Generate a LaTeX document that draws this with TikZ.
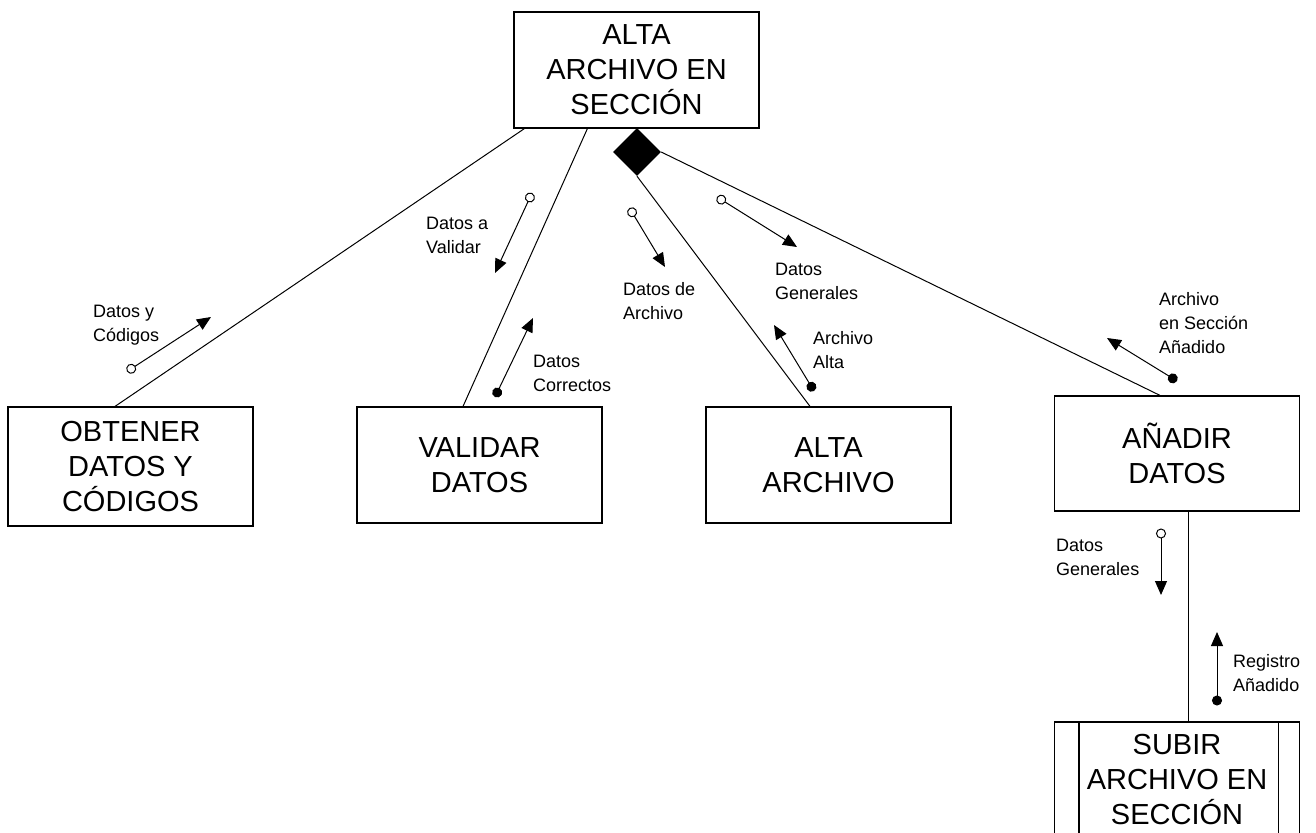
\documentclass[tikz,border=0pt]{standalone}
\usepackage{fontspec}
\setmainfont{Liberation Sans}
\usetikzlibrary{shapes.geometric, arrows.meta, calc}

\begin{document}
\begin{tikzpicture}[x=1pt, y=-1pt,
    proc/.style={draw, line width=1.2pt, minimum width=245pt, minimum height=116pt,
      align=center, font=\fontsize{29}{35}\selectfont},
    flowlbl/.style={anchor=north west, inner sep=0pt, align=left,
      font=\fontsize{18}{24}\selectfont},
    link/.style={line width=1pt},
    dataflow/.style={line width=1pt,
      {Circle[open, length=10pt, line width=1pt]}-{Triangle[length=14pt, width=12pt]}},
    ctrlflow/.style={line width=1pt,
      {Circle[length=10pt]}-{Triangle[length=14pt, width=12pt]}}]
  \clip (0,0) rectangle (1316,832);
  \fill[white] (0,0) rectangle (1316,832);

  % modules
  \node[proc] (alta) at (636.5,70) {ALTA\\ARCHIVO EN\\SECCIÓN};
  \node[diamond, fill, inner sep=0pt, minimum width=48pt, minimum height=48pt] (rombo) at (637,152) {};
  \node[proc, minimum height=119pt] (obtener) at (130.5,466.5) {OBTENER\\DATOS Y\\CÓDIGOS};
  \node[proc] (validar) at (479.5,465) {VALIDAR\\DATOS};
  \node[proc] (altaarch) at (828.5,465) {ALTA\\ARCHIVO};
  \node[proc, minimum height=115pt] (anadir) at (1177,453.5) {AÑADIR\\DATOS};
  \node[proc] (subir) at (1177,780) {SUBIR\\ARCHIVO EN\\SECCIÓN};
  \draw[line width=1.2pt] ($(subir.north west)+(25,0)$) -- ($(subir.south west)+(25,0)$)
    ($(subir.north east)+(-22,0)$) -- ($(subir.south east)+(-22,0)$);

  % calls
  \draw[link] ($(alta.south west)+(11,0)$) -- ($(obtener.north)+(-15.5,0)$);
  \draw[link] ($(alta.south west)+(74,0)$) -- ($(validar.north)+(-16.5,0)$);
  \draw[link] (rombo.south) -- ($(altaarch.north)+(-18.5,0)$);
  \draw[link] (rombo.east) -- ($(anadir.north)+(-17,0)$);
  \draw[link] ($(anadir.south)+(11,0)$) -- ($(subir.north)+(11,0)$);

  % couples
  \coordinate (f1a) at (127,371.5);  \coordinate (f1b) at (211,317);
  \coordinate (f2a) at (532,193);    \coordinate (f2b) at (495,273);
  \coordinate (f3a) at (495,397);    \coordinate (f3b) at (533,318);
  \coordinate (f4a) at (629.5,208);  \coordinate (f4b) at (665,267);
  \coordinate (f5a) at (717,197);    \coordinate (f5b) at (797,247);
  \coordinate (f6a) at (814,391);    \coordinate (f6b) at (774,325);
  \coordinate (f7a) at (1177,381);   \coordinate (f7b) at (1107,338);
  \coordinate (f8a) at (1161,528.5); \coordinate (f8b) at (1161,595);
  \coordinate (f9a) at (1217,705.5); \coordinate (f9b) at (1217,632);

  \draw[dataflow] (f1a) -- (f1b);
  \draw[dataflow] (f2a) -- (f2b);
  \draw[ctrlflow] (f3a) -- (f3b);
  \draw[dataflow] (f4a) -- (f4b);
  \draw[dataflow] (f5a) -- (f5b);
  \draw[ctrlflow] (f6a) -- (f6b);
  \draw[ctrlflow] (f7a) -- (f7b);
  \draw[dataflow] (f8a) -- (f8b);
  \draw[ctrlflow] (f9a) -- (f9b);

  \node[flowlbl] (l1) at (93,305) {Datos y\\Códigos};
  \node[flowlbl] (l2) at (426,217) {Datos a\\Validar};
  \node[flowlbl] (l3) at (533,355) {Datos\\Correctos};
  \node[flowlbl] (l4) at (623,282) {Datos de\\Archivo};
  \node[flowlbl] (l5) at (775,263) {Datos\\Generales};
  \node[flowlbl] (l6) at (813,331) {Archivo\\Alta};
  \node[flowlbl] (l7) at (1159,292) {Archivo\\en Sección\\Añadido};
  \node[flowlbl] (l8) at (1056,539) {Datos\\Generales};
  \node[flowlbl] (l9) at (1233,654) {Registro\\Añadido};
\end{tikzpicture}
\end{document}
